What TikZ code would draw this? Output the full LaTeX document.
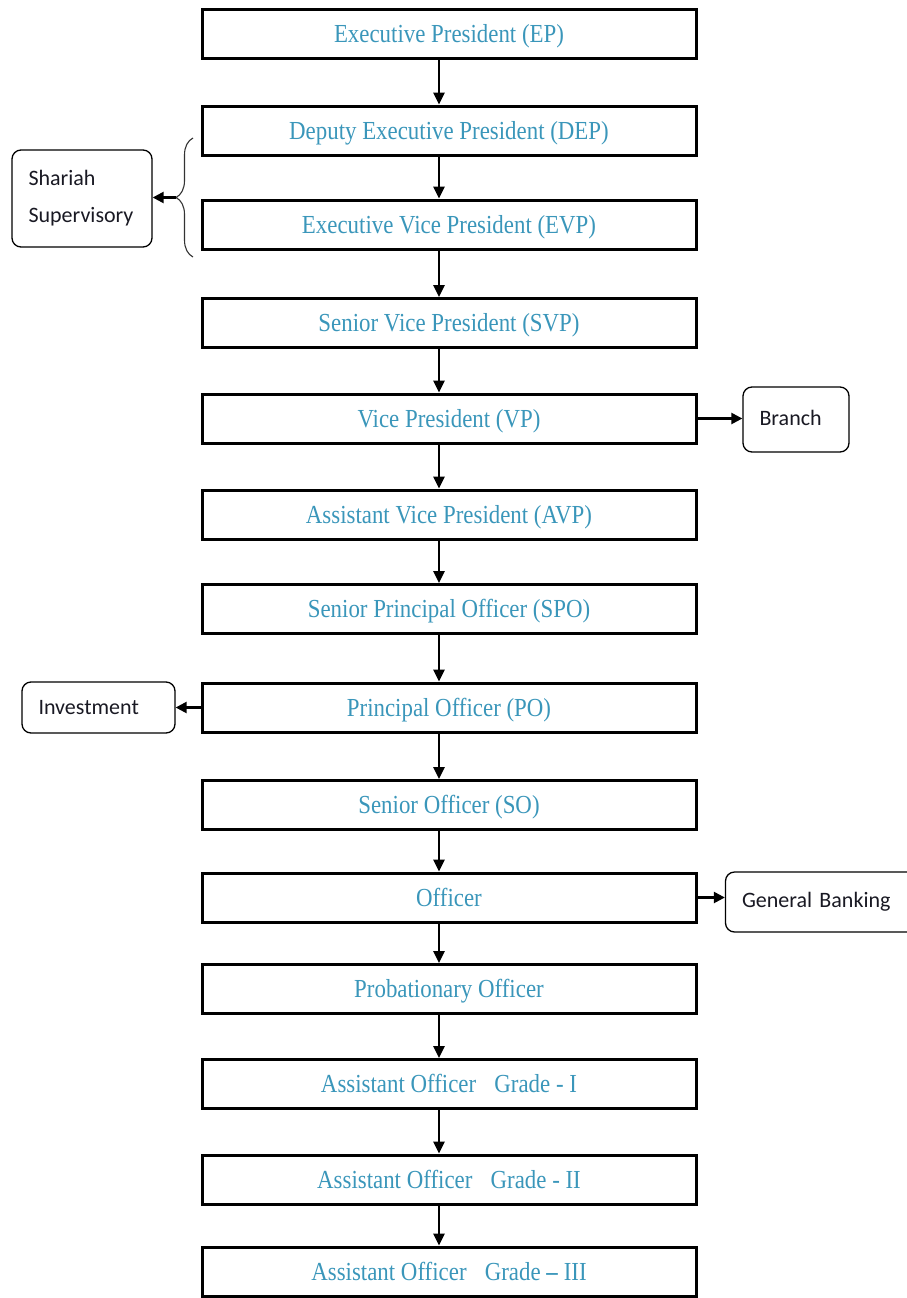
\documentclass[tikz,border=0pt]{standalone}
\usepackage{fontspec}
\setmainfont{Liberation Serif}
\newfontfamily\rankfont{Liberation Serif}[FakeStretch=0.88]
\newfontfamily\sidefont{Carlito}
\usetikzlibrary{arrows.meta,decorations.pathreplacing}
\definecolor{ranktext}{RGB}{58,150,186}
\definecolor{sidetext}{RGB}{25,25,35}

\tikzset{
  rankbox/.style={draw, line width=3pt, minimum width=494pt, minimum height=49pt,
    inner sep=0pt, text height=21pt, text depth=4pt, text=ranktext,
    font=\rankfont\fontsize{26}{30}\selectfont},
  sidebox/.style={draw, line width=1.3pt, rounded corners=9pt, inner xsep=16.5pt,
    inner ysep=0pt, align=left, text=sidetext,
    font=\sidefont\fontsize{22}{37}\selectfont},
  down/.style={line width=2.7pt, -{Triangle[length=12pt,width=11pt]}},
  side/.style={line width=2.3pt, -{Triangle[length=11pt,width=11pt]}},
}

\begin{document}
\begin{tikzpicture}[x=1pt,y=-1pt]
\useasboundingbox (0,0) rectangle (906,1298);

% ranks, top to bottom
\node[rankbox] (ep)   at (449,34.5)  {Executive President (EP)};
\node[rankbox] (dep)  at (449,130.5) {Deputy Executive President (DEP)};
\node[rankbox] (evp)  at (449,224.5) {Executive Vice President (EVP)};
\node[rankbox] (svp)  at (449,323)   {Senior Vice President (SVP)};
\node[rankbox] (vp)   at (449,418.5) {Vice President (VP)};
\node[rankbox] (avp)  at (449,514.5) {Assistant Vice President (AVP)};
\node[rankbox] (spo)  at (449,609)   {Senior Principal Officer (SPO)};
\node[rankbox] (po)   at (449,707.5) {Principal Officer (PO)};
\node[rankbox] (so)   at (449,805)   {Senior Officer (SO)};
\node[rankbox] (off)  at (449,897.5) {Officer};
\node[rankbox] (prob) at (449,989)   {Probationary Officer};
\node[rankbox] (ao1)  at (449,1084)  {Assistant Officer\hspace{0.7em}Grade - I};
\node[rankbox] (ao2)  at (449,1179.5){Assistant Officer\hspace{0.7em}Grade - II};
\node[rankbox] (ao3)  at (449,1271.5){Assistant Officer\hspace{0.7em}Grade \textbf{–} III};

% departments
\node[sidebox, text width=107pt, minimum height=97pt] (shariah) at (82,198.5)
  {Shariah\\Supervisory};
\node[sidebox, text width=73pt, minimum height=65pt] (branch) at (796,419.5)
  {\raisebox{3pt}{Branch}};
\node[sidebox, text width=120pt, minimum height=51pt] (invest) at (98.5,707.5) {Investment};
\node[sidebox, text width=160pt, minimum height=60pt] (gb) at (822,902) {General Banking};

% chain of command
\foreach \a/\b in {ep/dep, dep/evp, evp/svp, svp/vp, vp/avp, avp/spo, spo/po,
                   po/so, so/off, off/prob, prob/ao1, ao1/ao2, ao2/ao3}
  \draw[down] ([xshift=-10pt]\a.south) -- ([xshift=-10pt]\b.north);

% brace grouping DEP and EVP
\draw[line width=1.1pt, black!80, decorate, decoration={brace, amplitude=17pt}]
  (193,257) -- (193,138);
\coordinate (bracetip) at (176,197.5);
\draw[side] (bracetip) -- (bracetip -| shariah.east);

% links to departments
\draw[side] (vp.east) -- (vp.east -| branch.west);
\draw[side] (po.west) -- (po.west -| invest.east);
\draw[side] (off.east) -- (off.east -| gb.west);
\end{tikzpicture}
\end{document}
